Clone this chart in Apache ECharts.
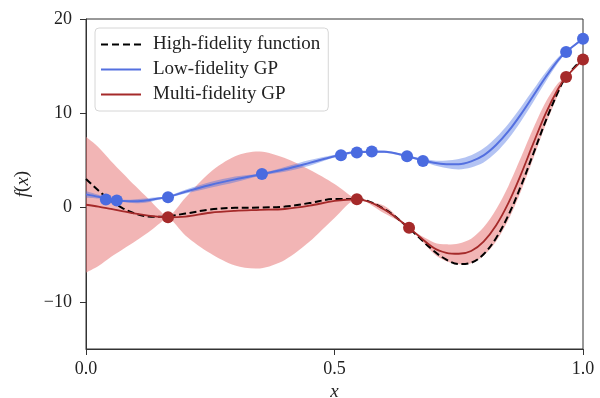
<!DOCTYPE html>
<html>
<head>
<meta charset="utf-8">
<script src="https://cdn.jsdelivr.net/npm/echarts@6/dist/echarts.min.js"></script>
<style>
    html, body { margin: 0; padding: 0; background: #fff; }
    #main { width: 600px; height: 398px; }
</style>
</head>
<body>
<div id="main"></div>
<script>
// x 网格
var xs = [0, 0.025, 0.05, 0.075, 0.1, 0.125, 0.15, 0.165, 0.2, 0.25, 0.3, 0.35, 0.4, 0.45, 0.5, 0.545,
    0.6, 0.65, 0.7, 0.725, 0.75, 0.775, 0.8, 0.825, 0.85, 0.875, 0.9, 0.925, 0.95, 0.966, 1.0];

// 高保真函数（虚线）
var hfValues = [3.03, 1.81, 0.74, -0.10, -0.66, -0.94, -0.98, -0.92, -0.64, -0.21, -0.02, 0.00, 0.11, 0.48, 0.91, 0.91,
    -0.15, -2.21, -4.61, -5.52, -5.99, -5.85, -4.95, -3.25, -0.80, 2.27, 5.71, 9.19, 12.30, 13.87, 15.83];

// 低保真 GP 均值 + 半宽
var lfMean = [1.4, 1.15, 0.87, 0.7, 0.67, 0.78, 1.0, 1.1, 1.68, 2.4, 2.99, 3.5, 4.06, 4.74, 5.45, 5.9,
    5.93, 5.4, 4.75, 4.6, 4.6, 4.9, 5.53, 6.63, 8.1, 9.89, 11.86, 13.85, 15.65, 16.5, 17.9];
var lfStd = [0.35, 0.2, 0.12, 0.12, 0.22, 0.22, 0.12, 0.1, 0.2, 0.3, 0.3, 0.12, 0.25, 0.3, 0.15, 0.1,
    0.12, 0.1, 0.25, 0.4, 0.55, 0.65, 0.75, 0.8, 0.8, 0.75, 0.65, 0.5, 0.3, 0.1, 0.1];

// 多保真 GP 均值 + 半宽
var mfMean = [0.3, 0.1, -0.15, -0.4, -0.65, -0.85, -1.0, -1.03, -0.95, -0.55, -0.35, -0.25, -0.15, 0.2, 0.7, 0.88,
    -0.2, -2.15, -4.3, -4.8, -4.9, -4.6, -3.6, -1.9, 0.5, 3.5, 6.8, 10.0, 12.6, 13.85, 15.7];
var mfStd = [7.2, 6.3, 5.1, 4.0, 2.9, 1.8, 0.6, 0, 2.0, 4.3, 5.8, 6.2, 5.4, 3.8, 1.8, 0,
    0.4, 0, 0.6, 0.9, 1.1, 1.3, 1.5, 1.7, 1.8, 1.8, 1.6, 1.2, 0.6, 0, 0];

// 观测点
var lfPtsX = [0.04, 0.062, 0.165, 0.354, 0.513, 0.545, 0.575, 0.646, 0.678, 0.966, 1.0];
var lfPtsY = [0.85, 0.75, 1.1, 3.55, 5.55, 5.85, 5.95, 5.45, 4.95, 16.5, 17.9];
var hfPtsX = [0.165, 0.545, 0.65, 0.966, 1.0];
var hfPtsY = [-1.03, 0.88, -2.15, 13.85, 15.7];

// 刻度
var xTicks = [0, 0.5, 1.0];
var yTicks = [-10, 0, 10, 20];

var FONT = 'Liberation Serif';

function pairs(x, y) {
    return x.map(function (v, i) { return [v, y[i]]; });
}

// 置信带：custom 系列，只在第一个数据项上画整个多边形
function band(m, s, color) {
    return {
        type: 'custom', silent: true, clip: true, z: 1,
        data: xs.map(function (v, i) { return [v, m[i]]; }),
        encode: { x: 0, y: 1 },
        renderItem: function (params, api) {
            if (params.dataIndex !== 0) return;
            var upper = [], lowerPts = [];
            for (var i = 0; i < xs.length; i++) {
                upper.push(api.coord([xs[i], m[i] + s[i]]));
                lowerPts.unshift(api.coord([xs[i], m[i] - s[i]]));
            }
            return {
                type: 'group',
                children: [{
                    type: 'polyline',
                    shape: { points: upper.concat(lowerPts), smooth: 0.3 },
                    style: { fill: color, stroke: null }
                }]
            };
        }
    };
}

var myechart = echarts.init(document.getElementById('main'));

// 图例图标：虚线 / 实线（宽高比 40:2）
var dashIcon = 'path://M0,0h7v2h-7z M11,0h7v2h-7z M22,0h7v2h-7z M33,0h7v2h-7z';
var lineIcon = 'path://M0,0h40v2h-40z';

var series = [];
series.push(band(mfMean, mfStd, 'rgba(232,120,120,0.55)'));
series.push(band(lfMean, lfStd, 'rgba(65,105,225,0.4)'));
series.push({
    name: 'High-fidelity function', type: 'line', smooth: 0.35, symbol: 'none', z: 3,
    data: pairs(xs, hfValues),
    lineStyle: { color: '#000', width: 2, type: [7, 3.5] },
    itemStyle: { color: '#000' }
});
series.push({
    name: 'Low-fidelity GP', type: 'line', smooth: 0.35, symbol: 'none', z: 4,
    data: pairs(xs, lfMean),
    lineStyle: { color: '#5470e0', width: 2 },
    itemStyle: { color: '#5470e0' }
});
series.push({
    name: 'Multi-fidelity GP', type: 'line', smooth: 0.35, symbol: 'none', z: 4,
    data: pairs(xs, mfMean),
    lineStyle: { color: '#a52a2a', width: 1.8 },
    itemStyle: { color: '#a52a2a' }
});
series.push({
    type: 'scatter', symbolSize: 12, z: 5, silent: true,
    data: pairs(lfPtsX, lfPtsY),
    itemStyle: { color: '#4a6be0', opacity: 1 }
});
series.push({
    type: 'scatter', symbolSize: 12, z: 5, silent: true,
    data: pairs(hfPtsX, hfPtsY),
    itemStyle: { color: '#a52a2a', opacity: 1 }
});

var option = {
    animation: false,
    textStyle: { fontFamily: FONT },
    grid: {
        left: 86, right: 17, top: 19, bottom: 49,
        outerBoundsMode: 'none',
        show: true, borderColor: '#333', borderWidth: 1
    },
    legend: {
        data: [
            { name: 'High-fidelity function', icon: dashIcon },
            { name: 'Low-fidelity GP', icon: lineIcon },
            { name: 'Multi-fidelity GP', icon: lineIcon }
        ],
        orient: 'vertical',
        left: 95, top: 28,
        itemWidth: 40, itemHeight: 3, itemGap: 6,
        padding: [7, 8, 7, 6],
        backgroundColor: 'rgba(255,255,255,0.85)',
        borderColor: '#d6d6d6', borderWidth: 1, borderRadius: 4,
        textStyle: { fontFamily: FONT, fontSize: 19, color: '#222', padding: [0, 0, 0, 7] }
    },
    xAxis: {
        type: 'value', min: 0, max: 1,
        name: 'x', nameLocation: 'middle', nameGap: 31,
        nameTextStyle: { fontFamily: FONT, fontSize: 19, fontStyle: 'italic', color: '#222' },
        axisLine: { onZero: false, lineStyle: { color: '#333' } },
        axisTick: { length: 6, lineStyle: { color: '#333' }, customValues: xTicks },
        axisLabel: {
            customValues: xTicks, margin: 11, fontSize: 18, color: '#222', fontFamily: FONT,
            formatter: function (v) { return v.toFixed(1); }
        },
        splitLine: { show: false }
    },
    yAxis: {
        type: 'value', min: -15, max: 20,
        name: '{i|f}(​{i|x})', nameLocation: 'middle', nameGap: 54, nameRotate: 90,
        nameTextStyle: {
            fontFamily: FONT, fontSize: 19, color: '#222',
            rich: { i: { fontFamily: FONT, fontSize: 19, fontStyle: 'italic', color: '#222' } }
        },
        axisLine: { lineStyle: { color: '#333' } },
        axisTick: { length: 6, lineStyle: { color: '#333' }, customValues: yTicks },
        axisLabel: {
            customValues: yTicks, margin: 14, fontSize: 18, color: '#222', fontFamily: FONT,
            formatter: function (v) { return v < 0 ? '\u2212' + Math.abs(v) : String(v); }
        },
        splitLine: { show: false }
    },
    series: series
};
myechart.setOption(option);
</script>
</body>
</html>
